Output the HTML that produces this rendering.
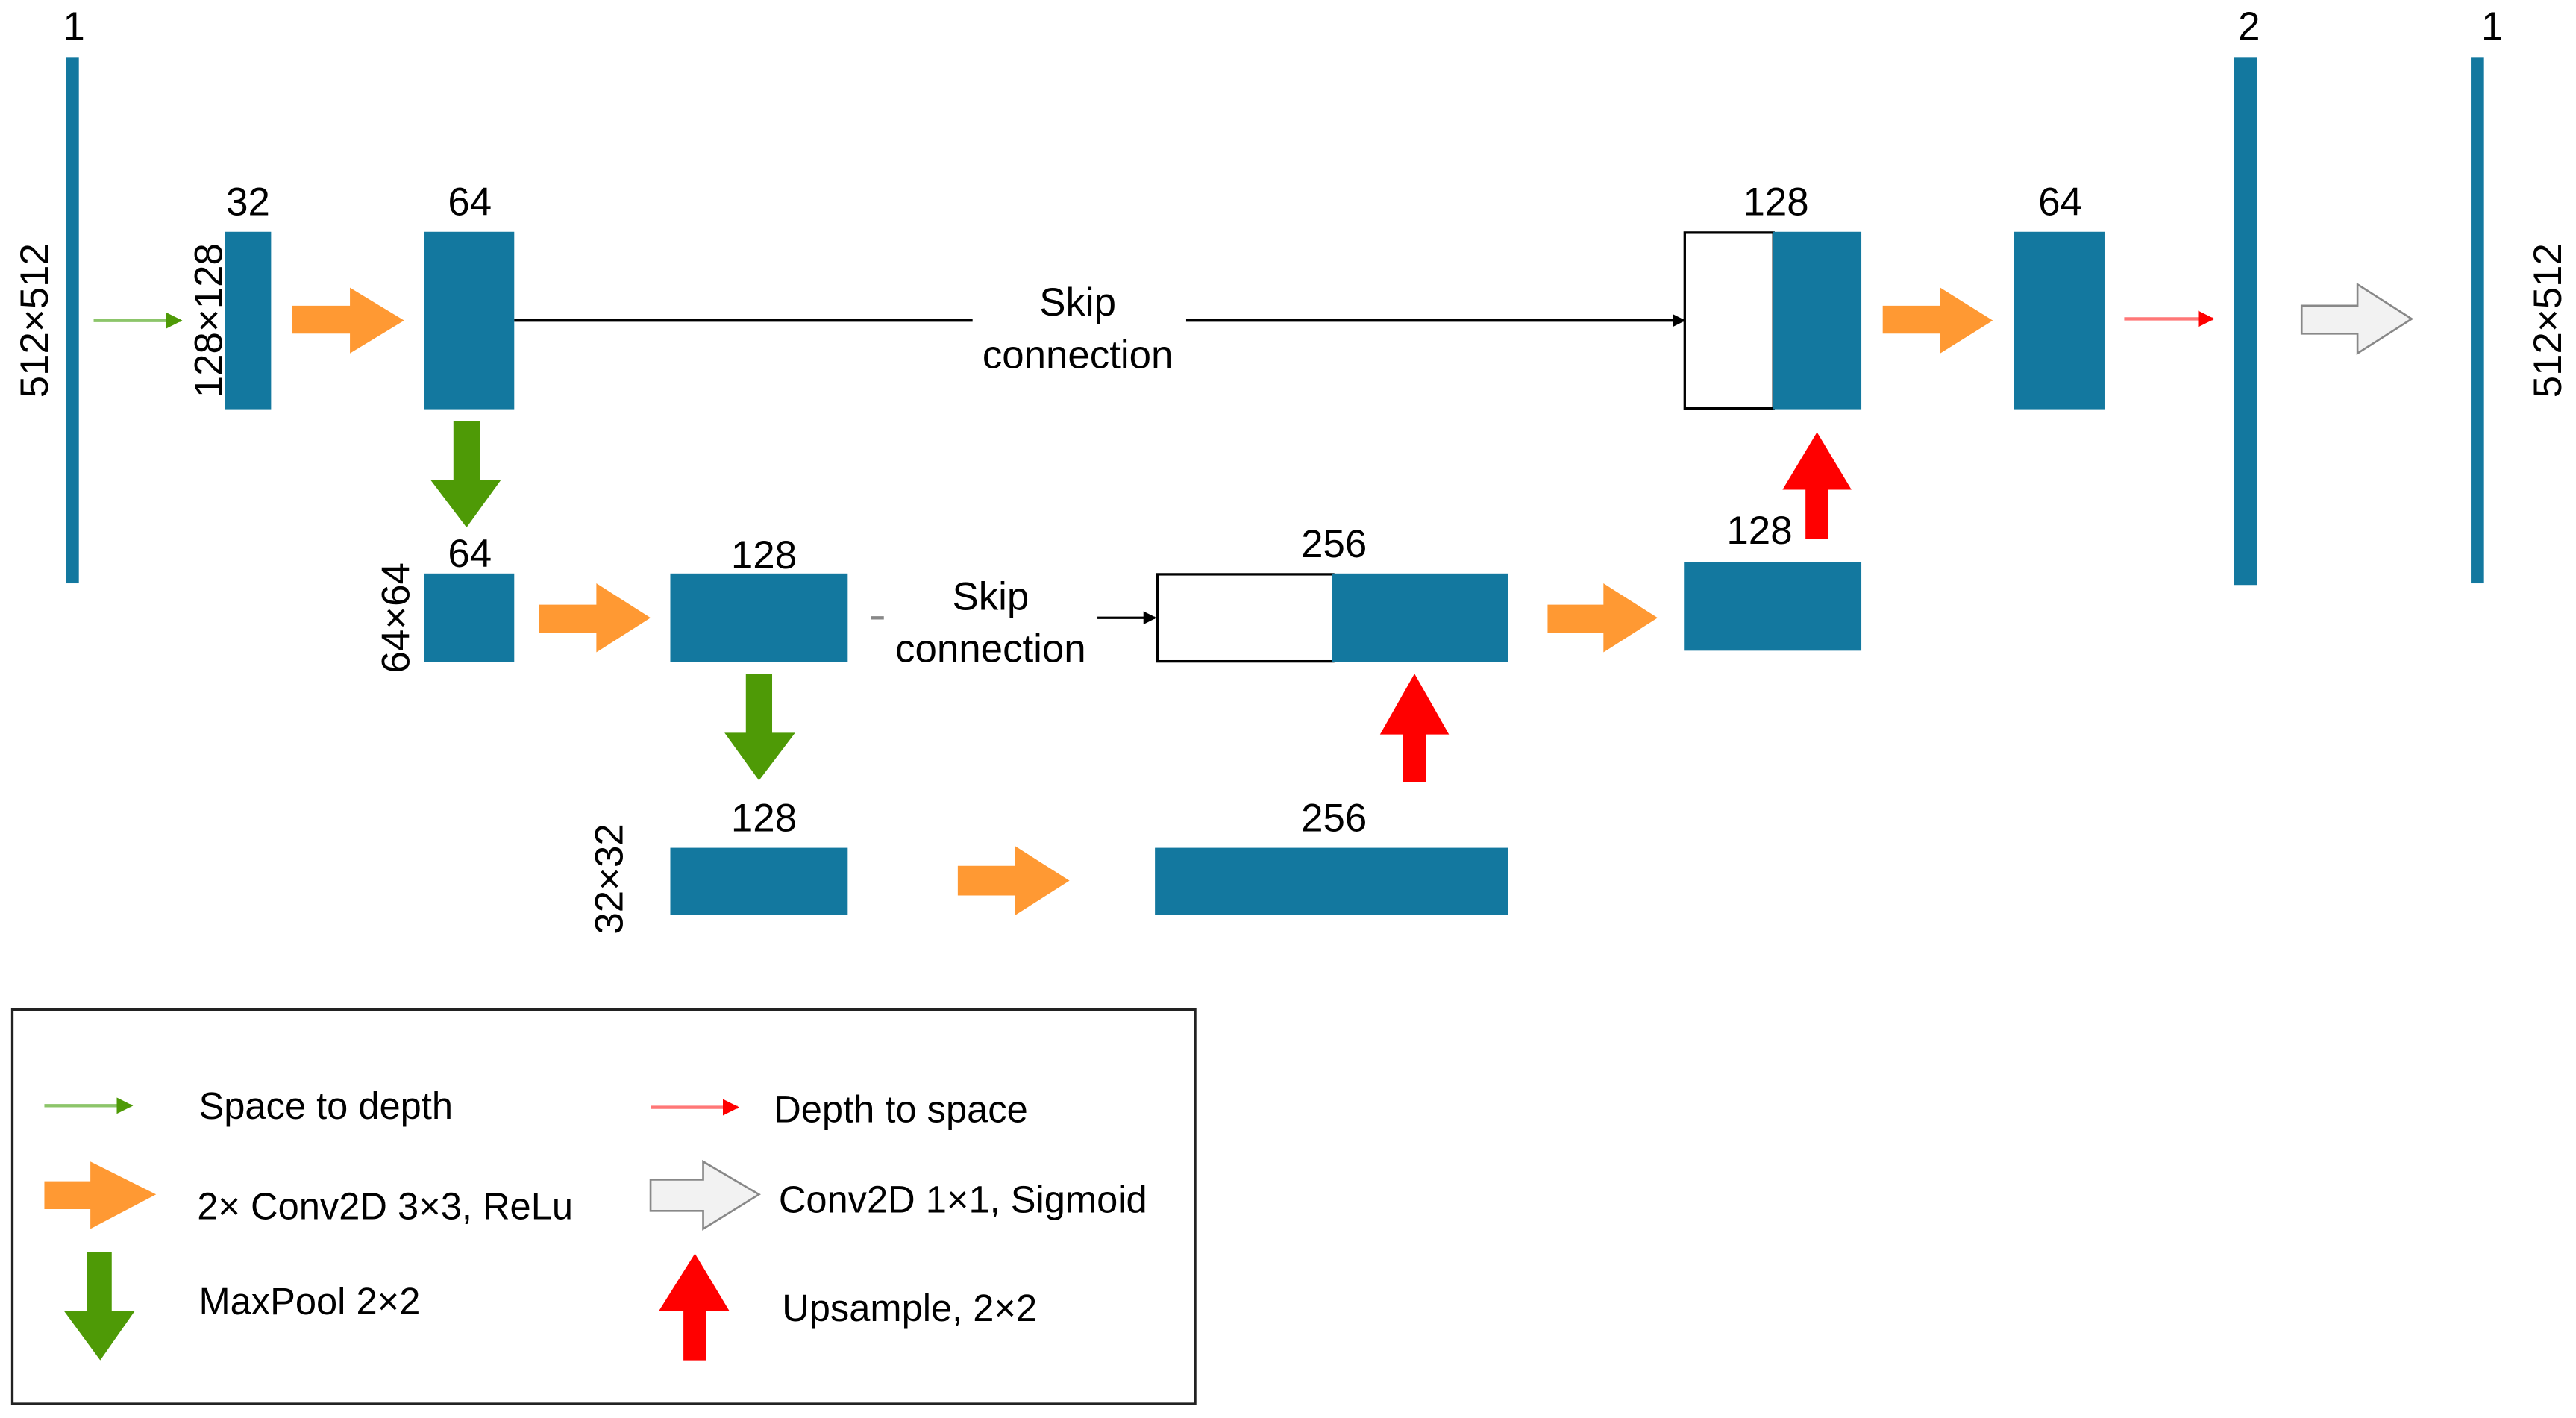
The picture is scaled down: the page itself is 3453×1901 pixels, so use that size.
<!DOCTYPE html>
<html><head><meta charset="utf-8"><style>html,body{margin:0;padding:0;background:#fff}svg{display:block}</style></head>
<body>
<svg width="3453" height="1901" viewBox="0 0 1568 863" xmlns="http://www.w3.org/2000/svg" font-family="Liberation Sans, sans-serif" fill="#000">
<defs>
<marker id="ab" markerWidth="8" markerHeight="8" refX="7" refY="4" orient="auto" markerUnits="userSpaceOnUse"><path d="M0,0 L8,4 L0,8 z" fill="#000"/></marker>
<marker id="ag" markerWidth="10" markerHeight="10" refX="9" refY="5" orient="auto" markerUnits="userSpaceOnUse"><path d="M0,0 L10,5 L0,10 z" fill="#4e9a06"/></marker>
<marker id="ar" markerWidth="10" markerHeight="10" refX="9" refY="5" orient="auto" markerUnits="userSpaceOnUse"><path d="M0,0 L10,5 L0,10 z" fill="#f00"/></marker>
</defs>
<g font-size="24" text-anchor="middle">
<!-- top row -->
<text x="45" y="24">1</text>
<rect x="40" y="35" width="8" height="320" fill="#13789f"/>
<text transform="translate(29,195) rotate(-90)">512×512</text>
<line x1="57" y1="195" x2="110" y2="195" stroke="#8cc56a" stroke-width="2" marker-end="url(#ag)"/>
<text x="151" y="131">32</text>
<rect x="137" y="141" width="28" height="108" fill="#13789f"/>
<text transform="translate(135,195) rotate(-90)">128×128</text>
<path d="M178,186 H213 V175 L246,195 L213,215 V203 H178 Z" fill="#ff9933"/>
<text x="286" y="131">64</text>
<rect x="258" y="141" width="55" height="108" fill="#13789f"/>
<line x1="313" y1="195" x2="592" y2="195" stroke="#000" stroke-width="1.5"/>
<text x="656" y="192">Skip</text>
<text x="656" y="224">connection</text>
<line x1="722" y1="195" x2="1025" y2="195" stroke="#000" stroke-width="1.5" marker-end="url(#ab)"/>
<text x="1081" y="131">128</text>
<rect x="1025.5" y="141.5" width="54" height="107" fill="#fff" stroke="#000" stroke-width="1.5"/>
<rect x="1079" y="141" width="54" height="108" fill="#13789f"/>
<path d="M1146,186 H1181 V175 L1213,195 L1181,215 V203 H1146 Z" fill="#ff9933"/>
<text x="1254" y="131">64</text>
<rect x="1226" y="141" width="55" height="108" fill="#13789f"/>
<line x1="1293" y1="194" x2="1347" y2="194" stroke="#ff7777" stroke-width="2" marker-end="url(#ar)"/>
<text x="1369" y="24">2</text>
<rect x="1360" y="35" width="14" height="321" fill="#13789f"/>
<path d="M1401,186 H1435 V173 L1468,194 L1435,215 V203 H1401 Z" fill="#f2f2f2" stroke="#888" stroke-width="1.2"/>
<text x="1517" y="24">1</text>
<rect x="1504" y="35" width="8" height="320" fill="#13789f"/>
<text transform="translate(1559,195) rotate(-90)">512×512</text>
<!-- mid row -->
<path d="M276,256 H292 V292 H305 L284,321 L262,292 H276 Z" fill="#4e9a06"/>
<text x="286" y="345">64</text>
<rect x="258" y="349" width="55" height="54" fill="#13789f"/>
<text transform="translate(249,376) rotate(-90)">64×64</text>
<path d="M328,368 H363 V355 L396,376 L363,397 V385 H328 Z" fill="#ff9933"/>
<text x="465" y="346">128</text>
<rect x="408" y="349" width="108" height="54" fill="#13789f"/>
<line x1="530" y1="376" x2="538" y2="376" stroke="#888" stroke-width="2"/>
<text x="603" y="371">Skip</text>
<text x="603" y="403">connection</text>
<line x1="668" y1="376" x2="703" y2="376" stroke="#000" stroke-width="1.5" marker-end="url(#ab)"/>
<text x="812" y="339">256</text>
<rect x="704.5" y="349.5" width="107" height="53" fill="#fff" stroke="#000" stroke-width="1.5"/>
<rect x="811" y="349" width="107" height="54" fill="#13789f"/>
<path d="M942,368 H976 V355 L1009,376 L976,397 V385 H942 Z" fill="#ff9933"/>
<text x="1071" y="331">128</text>
<rect x="1025" y="342" width="108" height="54" fill="#13789f"/>
<path d="M1099,328 V298 H1085 L1106,263 L1127,298 H1113 V328 Z" fill="#f00"/>
<!-- bottom row -->
<path d="M454,410 H470 V446 H484 L462,475 L441,446 H454 Z" fill="#4e9a06"/>
<text x="465" y="506">128</text>
<rect x="408" y="516" width="108" height="41" fill="#13789f"/>
<text transform="translate(379,535) rotate(-90)">32×32</text>
<path d="M583,527 H618 V515 L651,536 L618,557 V545 H583 Z" fill="#ff9933"/>
<text x="812" y="506">256</text>
<rect x="703" y="516" width="215" height="41" fill="#13789f"/>
<path d="M854,476 V447 H840 L861,410 L882,447 H868 V476 Z" fill="#f00"/>
</g>
<!-- legend -->
<rect x="7.5" y="614.5" width="720" height="240" fill="none" stroke="#222" stroke-width="1.5"/>
<g font-size="23">
<line x1="27" y1="673" x2="80" y2="673" stroke="#8cc56a" stroke-width="2" marker-end="url(#ag)"/>
<text x="121" y="681">Space to depth</text>
<line x1="396" y1="674" x2="449" y2="674" stroke="#ff7777" stroke-width="2" marker-end="url(#ar)"/>
<text x="471" y="683">Depth to space</text>
<path d="M27,719 H55 V707 L95,727 L55,748 V736 H27 Z" fill="#ff9933"/>
<text x="120" y="742">2× Conv2D 3×3, ReLu</text>
<path d="M396,718 H428 V707 L462,727 L428,748 V737 H396 Z" fill="#f2f2f2" stroke="#888" stroke-width="1.2"/>
<text x="474" y="738">Conv2D 1×1, Sigmoid</text>
<path d="M53,762 H68 V798 H82 L61,828 L39,798 H53 Z" fill="#4e9a06"/>
<text x="121" y="800">MaxPool 2×2</text>
<path d="M416,828 V798 H401 L423,763 L444,798 H430 V828 Z" fill="#f00"/>
<text x="476" y="804">Upsample, 2×2</text>
</g>
</svg>
</body></html>
